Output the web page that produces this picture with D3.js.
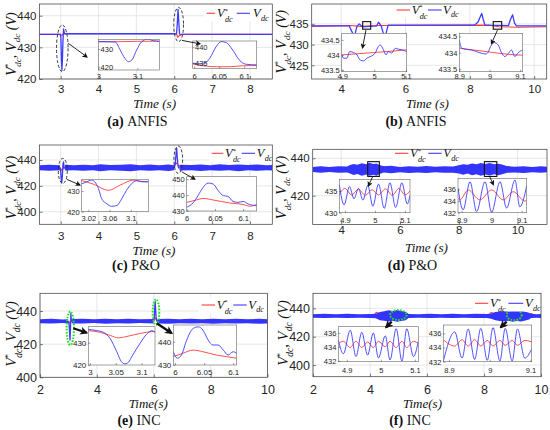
<!DOCTYPE html>
<html><head><meta charset="utf-8">
<script src="https://cdn.jsdelivr.net/npm/d3@7"></script>
<style>body{margin:0;background:#fff}svg{display:block}</style>
</head><body>
<svg id="fig" width="550" height="430"></svg>
<script>
// ================= DATA =================
// ---- (a) ANFIS, scenario 1 ----
const aXTicks = [3,4,5,6,7,8];
const aYTicks = [420,430,440];
const aRef = [[2.44,434.1],[3.0,434.1],[3.03,433.7],[3.07,434.4],[3.2,434.3],[6.06,434.3],[6.09,433.2],[6.13,433.7],[6.2,434.1],[8.59,434.1]];
const aVdc = [[2.44,434.1],[2.99,434.1],[3.005,433],[3.02,426],[3.032,422.8],[3.045,426],[3.06,432],[3.075,435.8],[3.1,434.3],[6.06,434.3],[6.08,437.5],[6.1,442],[6.12,438],[6.14,434.2],[8.59,434.1]];
const aIn1XTicks = [3,3.1], aIn1YTicks = [420,430];
const aIn1Ref = [[3.0,434.0],[3.05,434.15],[3.1,434.35],[3.156,434.45]];
const aIn1Vdc = [[3.0,434.3],[3.02,434.2],[3.043,434.0],[3.056,429.4],[3.068,424.7],[3.077,422.8],[3.086,423.8],[3.098,429.4],[3.111,434.1],[3.126,435.6],[3.141,434.7],[3.156,434.3]];
const aIn2XTicks = [6,6.05,6.1], aIn2YTicks = [435,440];
const aIn2Ref = [[5.997,434.6],[6.018,434.0],[6.044,433.7],[6.07,433.7],[6.096,434.0],[6.125,434.1]];
const aIn2Vdc = [[5.997,434.8],[6.018,434.6],[6.031,436.4],[6.044,440.2],[6.054,441.8],[6.064,441.5],[6.077,439.1],[6.09,435.9],[6.104,434.5],[6.125,434.3]];

// ---- (b) ANFIS, scenario 2 ----
const bXTicks = [4,6,8,10];
const bYTicks = [425,430,435];
const bRef = [[3.08,434.4],[4.3,434.6],[4.6,434.4],[5.2,434.6],[8.6,434.7],[8.9,434.3],[9.5,434.2],[10.39,434.3]];
const bVdc = [[3.08,434.5],[4.25,434.5],[4.33,433.2],[4.40,431.8],[4.45,433.2],[4.49,434.4],[4.56,435.0],[4.66,434.3],[5.10,434.5],[5.16,435.4],[5.24,434.6],[5.30,433.0],[5.36,431.8],[5.41,433.2],[5.46,434.7],[8.15,434.7],[8.26,435.5],[8.31,436.5],[8.37,437.5],[8.42,436],[8.47,434.7],[9.2,434.6],[9.26,436],[9.33,437.2],[9.39,435.2],[9.45,434.5],[10.39,434.5]];
const bIn1XTicks = [4.9,5,5.1], bIn1YTicks = [433.5,434,434.5];
const bIn1Ref = [[4.898,434.0],[4.95,434.04],[5.0,434.08],[5.05,434.12],[5.102,434.17]];
const bIn1Vdc = [[4.898,434.02],[4.904,433.89],[4.914,433.89],[4.923,434.11],[4.935,434.08],[4.946,434.0],[4.956,433.83],[4.967,433.8],[4.977,433.89],[4.987,433.94],[5.003,434.06],[5.013,434.28],[5.019,434.33],[5.029,434.17],[5.037,434.0],[5.045,434.11],[5.055,434.06],[5.066,434.22],[5.076,434.19],[5.087,434.17],[5.102,434.11]];
const bIn2XTicks = [8.9,9,9.1], bIn2YTicks = [433.5,434,434.5];
const bIn2Ref = [[8.9,434.14],[8.95,434.08],[9.0,434.02],[9.05,433.96],[9.109,433.92]];
const bIn2Vdc = [[8.9,434.39],[8.908,434.14],[8.924,434.1],[8.941,434.08],[8.957,434.03],[8.974,433.98],[8.988,433.96],[8.996,434.03],[9.003,434.19],[9.015,434.31],[9.028,434.24],[9.039,434.0],[9.05,433.88],[9.061,433.97],[9.072,434.08],[9.083,433.88],[9.094,434.0],[9.109,434.08]];

// ---- (c) P&O, scenario 1 ----
const cXTicks = [3,4,5,6,7,8];
const cYTicks = [400,420,440];
const cRef = [[2.44,434],[2.99,434],[3.03,431.8],[3.08,433.8],[6.0,434],[6.04,438.2],[6.1,436],[6.2,434],[8.59,434]];
const cBand = [[2.44,432.1,435.9],[2.7,431.7,436.3],[2.98,432,436],[2.99,null,null],[3.1,null,null],[3.11,431.8,436.4],[3.35,432.1,435.9],[3.6,431.6,436.4],[3.85,432,436],[4.05,431.4,436.8],[4.3,432,436.1],[4.6,431.7,436.3],[4.85,431.4,436.7],[5.1,432,436],[5.35,431.6,436.5],[5.6,432,436],[5.85,431.5,436.6],[6.0,432,436],[6.01,null,null],[6.13,null,null],[6.14,431.8,436.3],[6.45,432,436.1],[6.7,431.5,436.5],[6.95,432,436],[7.2,431.6,436.7],[7.45,432,436.1],[7.7,431.4,436.6],[7.95,432,436.2],[8.2,431.6,436.5],[8.45,432,436],[8.59,431.8,436.2]];
const cDip = [[2.98,434],[3.0,431],[3.015,425],[3.028,422.4],[3.045,428],[3.06,437],[3.075,438.5],[3.09,434],[3.11,434]];
const cSpike = [[6.0,434],[6.03,438],[6.05,446],[6.064,449],[6.08,442],[6.095,437],[6.11,434],[6.14,434]];
const cIn1XTicks = [3.02,3.06,3.1], cIn1YTicks = [420,430];
const cIn1Ref = [[3.0075,435.0],[3.03,433.2],[3.058,430.3],[3.08,432.8],[3.105,435.2],[3.12,434.6],[3.133,434.4]];
const cIn1Vdc = [[3.0075,433.4],[3.017,434.4],[3.026,435.2],[3.032,434.4],[3.039,431.2],[3.045,426.3],[3.055,423.8],[3.064,422.6],[3.074,423],[3.083,426.3],[3.092,430.3],[3.102,433.6],[3.111,434.9],[3.121,434.4],[3.133,434.4]];
const cIn2XTicks = [6,6.05,6.1], cIn2YTicks = [430,440,450];
const cIn2Ref = [[6.0,435.4],[6.018,437],[6.029,437.9],[6.047,436.9],[6.077,435],[6.1,434.1],[6.112,433],[6.124,434.1]];
const cIn2Vdc = [[6.0,432.3],[6.012,435.4],[6.02,439.6],[6.029,444.8],[6.038,447.5],[6.047,446.9],[6.056,442.7],[6.065,439.6],[6.073,439.2],[6.082,436],[6.091,435.4],[6.1,436],[6.109,434.4],[6.124,433.3]];

// ---- (d) P&O, scenario 2 ----
const dXTicks = [4,6,8,10];
const dYTicks = [420,440];
const dRef = [[3.03,434],[4.2,434.2],[4.3,435.8],[4.45,434.5],[5.3,434],[5.45,435.6],[5.6,434],[7.98,434.2],[8.1,435.8],[8.3,434.4],[9.55,434.2],[9.7,435.7],[9.85,434],[11,434]];
const dBand = [[3.03,432.6,435.4],[3.3,432.3,435.8],[3.6,432.6,435.3],[3.9,432.2,435.8],[4.2,432.4,435.6],[4.3,431.8,436.4],[4.42,431.0,437.0],[4.55,431.6,436.6],[4.7,430.6,437.4],[4.85,431.3,436.8],[4.95,430.7,437.6],[5.1,431.2,436.9],[5.2,430.6,437.2],[5.3,431.6,436.4],[5.45,432.4,435.7],[5.7,432,436],[6.0,432.5,435.4],[6.3,432.1,435.8],[6.6,432.4,435.5],[6.9,432.1,435.9],[7.2,432.5,435.5],[7.5,432.2,435.8],[7.8,432.3,435.6],[8.0,431.8,436.3],[8.15,431.2,436.8],[8.3,431.8,436.5],[8.45,430.9,437.2],[8.6,431.5,436.8],[8.75,430.7,437.5],[8.9,431.3,436.9],[9.05,430.8,437.5],[9.2,431.4,436.8],[9.35,430.9,437.1],[9.5,431.6,436.5],[9.65,432.2,435.8],[9.9,432.4,435.5],[10.2,432.1,435.8],[10.5,432.5,435.4],[10.8,432.2,435.7],[11.0,432.5,435.5]];
const dIn1XTicks = [4.9,5,5.1], dIn1YTicks = [430,435];
const dIn1Ref = [[4.881,434.2],[4.9,435.6],[4.922,434.1],[4.945,435.4],[4.968,434.0],[4.99,435.3],[5.012,434.1],[5.035,435.5],[5.058,434.0],[5.08,435.6],[5.1,434.1],[5.117,435.0]];
const dIn1Vdc = [[4.881,436.5],[4.897,431.8],[4.915,436.0],[4.93,433.2],[4.945,435.6],[4.96,432.9],[4.976,436.3],[4.993,431.5],[5.012,436.6],[5.031,431.0],[5.05,436.9],[5.069,431.2],[5.09,436.9],[5.108,432.0],[5.117,434.0]];
const dIn2XTicks = [8.9,9,9.1], dIn2YTicks = [432,434,436];
const dIn2Ref = [[8.888,434.5],[8.894,434.2],[8.922,435.9],[8.961,434.2],[9.0,435.9],[9.039,434.2],[9.072,435.6],[9.111,434.0],[9.117,434.1]];
const dIn2Vdc = [[8.888,436.2],[8.905,432.5],[8.928,437.3],[8.95,432.2],[8.978,437.3],[9.0,432.1],[9.028,437.3],[9.05,432.8],[9.078,437.6],[9.094,433],[9.117,436.6]];

// ---- (e) INC, scenario 1 ----
const eXTicks = [2,4,6,8,10];
const eYTicks = [400,420,440];
const eRef = [[2,433.8],[3.02,433.8],[3.055,432.3],[3.1,433.5],[6.0,433.8],[6.05,436],[6.1,434.5],[6.2,433.8],[10,433.8]];
const eBand = [[2,432.6,435.0],[2.4,432.4,435.3],[2.8,432.7,434.9],[2.99,432.5,435.1],[3.0,null,null],[3.12,null,null],[3.13,432.5,435.2],[3.5,432.4,435.3],[3.9,432.7,435.0],[4.3,432.3,435.4],[4.7,432.6,435.0],[5.1,432.4,435.3],[5.5,432.7,435.0],[5.99,432.4,435.2],[6.0,null,null],[6.12,null,null],[6.13,432.5,435.2],[6.5,432.3,435.4],[6.9,432.6,435.0],[7.3,432.4,435.3],[7.7,432.6,435.0],[8.1,432.3,435.3],[8.5,432.6,435.1],[8.9,432.4,435.3],[9.3,432.6,435.0],[9.7,432.3,435.3],[10,432.5,435.1]];
const eDip = [[2.99,433.8],[3.02,432.5],[3.04,427],[3.055,422.5],[3.07,428],[3.085,438.5],[3.1,434.5],[3.13,433.8]];
const eSpike = [[5.99,433.8],[6.02,436],[6.035,442],[6.05,445.6],[6.065,441],[6.08,437],[6.1,434],[6.13,433.8]];
const eIn1XTicks = [3,3.05,3.1], eIn1YTicks = [420,430];
const eIn1Ref = [[2.997,435.4],[3.02,434.7],[3.04,433.2],[3.055,432.2],[3.075,433.0],[3.1,434.3],[3.12,435.0],[3.126,435.1]];
const eIn1Vdc = [[2.997,436.0],[3.012,435.5],[3.026,434.7],[3.039,432],[3.052,426],[3.061,421.5],[3.068,420.5],[3.075,421.3],[3.081,423.7],[3.097,429.7],[3.113,434.6],[3.12,435.4],[3.126,434.6]];
const eIn2XTicks = [6,6.05,6.1], eIn2YTicks = [430,440];
const eIn2Ref = [[5.997,433.6],[6.013,435],[6.031,436.4],[6.048,435.7],[6.071,434.3],[6.088,433.6],[6.106,432.9]];
const eIn2Vdc = [[5.997,435.7],[6.004,432.9],[6.011,434.3],[6.02,440.7],[6.031,445.7],[6.04,446.4],[6.048,445],[6.057,440.7],[6.065,438.6],[6.074,438.6],[6.083,436.4],[6.091,434.3],[6.1,435.7],[6.106,435]];

// ---- (f) INC, scenario 2 ----
const fXTicks = [2,4,6,8,10];
const fYTicks = [400,420,440];
const fRef = [[2,434.6],[4.12,434.7],[4.22,437.2],[4.32,436.4],[4.45,434.8],[5.2,434.6],[5.3,436.4],[5.42,434.6],[8.15,434.7],[8.25,437.2],[8.38,436],[8.5,434.7],[9.55,434.6],[9.66,436.4],[9.8,434.6],[10,434.6]];
const fBand = [[2,433.3,435.9],[2.4,433.1,436.1],[2.8,433.4,435.8],[3.2,433.1,436.1],[3.6,433.3,435.9],[4.0,433.2,436.0],[4.2,433.0,436.2],[4.35,431.6,437.4],[4.5,431.2,437.9],[4.65,430.7,438.6],[4.8,431.2,438.1],[4.95,430.6,438.8],[5.1,431.1,438.2],[5.25,431.6,437.6],[5.35,433.2,436.0],[5.7,433.3,435.9],[6.1,433.1,436.1],[6.5,433.3,435.9],[6.9,433.1,436.1],[7.3,433.3,435.9],[7.7,433.1,436.1],[8.1,433.2,436.0],[8.25,432.6,436.4],[8.4,431.6,437.5],[8.55,431.0,438.0],[8.7,430.8,438.5],[8.85,431.3,438.0],[9.0,430.6,438.8],[9.15,431.1,438.1],[9.3,430.8,438.5],[9.45,431.5,437.6],[9.58,432.2,436.8],[9.65,433.1,436.1],[9.85,433.3,435.9],[10,433.2,436.0]];
const fIn1XTicks = [4.9,5,5.1], fIn1YTicks = [432,434,436];
const fIn1Ref = [[4.875,434.5],[4.89,434.8],[4.91,433.9],[4.927,434.8],[4.944,433.9],[4.961,434.7],[4.978,433.9],[4.993,434.8],[5.013,434.0],[5.027,434.8],[5.045,433.9],[5.062,434.8],[5.076,433.9],[5.096,434.8],[5.11,434.5]];
const fIn1Vdc = [[4.875,435],[4.89,433.0],[4.91,436.4],[4.927,432.6],[4.944,436.1],[4.961,432.8],[4.978,436.0],[4.993,432.4],[5.013,435.6],[5.027,432.1],[5.045,436.6],[5.062,431.95],[5.076,436.6],[5.096,432.6],[5.11,434.8]];
const fIn2XTicks = [8.9,9,9.1], fIn2YTicks = [432,434,436];
const fIn2Ref = [[8.886,435.1],[8.914,434.2],[8.932,435.1],[8.947,434.2],[8.963,435.1],[8.978,434.2],[8.994,435.0],[9.008,434.2],[9.025,435.0],[9.038,434.3],[9.055,435.0],[9.068,434.3],[9.086,435.0],[9.103,434.8]];
const fIn2Vdc = [[8.886,432.05],[8.914,436.2],[8.932,432.5],[8.947,436.6],[8.963,432.3],[8.978,436.7],[8.994,432.2],[9.008,436.8],[9.025,432.1],[9.038,436.7],[9.055,432.1],[9.068,436.6],[9.086,432.5],[9.103,433.8]];

// ================= STYLE / LAYOUT =================
const SERIF = "'Liberation Serif','Times New Roman',serif";
const SANS = "'Liberation Sans',Arial,Helvetica,sans-serif";
const RED = "#ff3c3c", BLUE = "#3c3cff", BANDCOL = "#3434ff", INK = "#262626";

const svg = d3.select("#fig");
const defs = svg.append("defs");
function marker(id, size){
  defs.append("marker").attr("id",id).attr("viewBox","0 0 10 10").attr("refX",8).attr("refY",5)
    .attr("markerWidth",size).attr("markerHeight",size).attr("markerUnits","userSpaceOnUse").attr("orient","auto")
    .append("path").attr("d","M0,0L10,5L0,10L2.5,5z").attr("fill","#111");
}
marker("ah",5.5); marker("ahk",8);
let cid = 0;
function clip(x0,y0,x1,y1){
  const id = "clp"+(cid++);
  defs.append("clipPath").attr("id",id).append("rect").attr("x",x0).attr("y",y0).attr("width",x1-x0).attr("height",y1-y0);
  return `url(#${id})`;
}
function drawLine(p, sx, sy, data, color, w, curve){
  p.append("path").datum(data).attr("fill","none").attr("stroke",color).attr("stroke-width",w)
   .attr("stroke-linejoin","round")
   .attr("d", d3.line().x(d=>sx(d[0])).y(d=>sy(d[1])).curve(curve||d3.curveLinear));
}
function drawBand(p, sx, sy, data, color){
  p.append("path").datum(data).attr("fill",color)
   .attr("d", d3.area().defined(d=>d[1]!==null).x(d=>sx(d[0])).y0(d=>sy(d[1])).y1(d=>sy(d[2])));
}
function styleAxis(a, fs){
  a.select(".domain").remove();
  a.attr("font-family",SANS).attr("font-size",fs);
  a.selectAll("line").attr("stroke","#444").attr("stroke-width",0.7);
  a.selectAll("text").attr("fill",INK);
}
// "V" with optional "*" superscript and "dc" subscript, as tspans of one text element.
function vSpans(t, fs, star){
  t.append("tspan").attr("font-style","italic").attr("font-size",fs).text("V");
  if(star){
    const s1 = fs*0.52, s2 = fs*0.656;
    t.append("tspan").attr("font-size",s1).attr("dy",-fs*0.37).text("*");
    t.append("tspan").attr("font-style","italic").attr("font-size",s2)
      .attr("dx",-s1*0.5+0.3).attr("dy",fs*0.74).text("dc");
    return fs*0.37;
  }
  t.append("tspan").attr("font-style","italic").attr("font-size",fs*0.656).attr("dx",0.3).attr("dy",fs*0.26).text("dc");
  return fs*0.26;
}
function mathLabel(p, x, y, fs, star){
  const t = p.append("text").attr("x",x).attr("y",y).attr("font-family",SERIF).attr("fill","#111").attr("font-size",fs);
  vSpans(t, fs, star);
  return t;
}

function mainAxes(P){
  const [x0,y0,x1,y1] = P.box;
  const sx = d3.scaleLinear().domain(P.xdom).range([x0,x1]);
  const sy = d3.scaleLinear().domain(P.ydom).range([y1,y0]);
  const g = svg.append("g");
  g.append("rect").attr("x",x0).attr("y",y0).attr("width",x1-x0).attr("height",y1-y0).attr("fill","#fff");
  const grid = g.append("g").attr("stroke","#e1e1e1").attr("stroke-width",0.8);
  P.xticks.forEach(t=>grid.append("line").attr("x1",sx(t)).attr("x2",sx(t)).attr("y1",y0).attr("y2",y1));
  P.yticks.forEach(v=>grid.append("line").attr("x1",x0).attr("x2",x1).attr("y1",sy(v)).attr("y2",sy(v)));
  const plot = g.append("g").attr("clip-path", clip(x0,y0,x1,y1));
  const top = svg.append("g");
  return {sx, sy, g, plot, top, P};
}
function finishAxes(A){
  const {sx, sy, P} = A;
  const [x0,y0,x1,y1] = P.box;
  const g = svg.append("g");
  g.append("rect").attr("x",x0).attr("y",y0).attr("width",x1-x0).attr("height",y1-y0)
    .attr("fill","none").attr("stroke","#444").attr("stroke-width",0.75);
  const xa = g.append("g").attr("transform",`translate(0,${y1})`)
    .call(d3.axisBottom(sx).tickValues(P.xticks).tickFormat(d=>String(d)).tickSizeInner(-3).tickSizeOuter(0)
      .tickPadding(P.xly - y1 - 0.36*P.tfs));
  styleAxis(xa, P.tfs);
  const ya = g.append("g").attr("transform",`translate(${x0},0)`)
    .call(d3.axisLeft(sy).tickValues(P.yticks).tickFormat(d=>String(d)).tickSizeInner(-3).tickSizeOuter(0).tickPadding(3));
  styleAxis(ya, P.tfs);
  svg.append("text").attr("x",P.xlab.x).attr("y",P.xlab.y).attr("text-anchor","middle")
    .attr("font-family",SERIF).attr("font-style","italic").attr("font-size",P.xlab.fs).attr("fill","#111").text(P.xlab.text);
  const cap = svg.append("text").attr("x",P.cap.x).attr("y",P.cap.y).attr("text-anchor","middle")
    .attr("font-family",SERIF).attr("font-size",14).attr("fill","#111");
  cap.append("tspan").attr("font-weight","bold").text(P.cap.tag);
  cap.append("tspan").text("\u00a0"+P.cap.name);
  const fs = P.ylab.fs;
  const yg = svg.append("g").attr("transform",`translate(${P.ylab.x},${P.ylab.y}) rotate(-90)`);
  const t = yg.append("text").attr("x",0).attr("y",fs*0.33).attr("text-anchor","middle")
    .attr("font-family",SERIF).attr("font-size",fs).attr("fill","#111");
  let back = vSpans(t, fs, true);
  t.append("tspan").attr("font-size",fs).attr("dy",-back).text(",\u00a0");
  back = vSpans(t, fs, false);
  t.append("tspan").attr("font-size",fs).attr("font-style","italic").attr("dy",-back).text("\u00a0(V)");
}
function inset(I, red, blue){
  const [x0,y0,x1,y1] = I.box;
  const fs = I.fs || 7.5;
  const sx = d3.scaleLinear().domain(I.xdom).range([x0,x1]);
  const sy = d3.scaleLinear().domain(I.ydom).range([y1,y0]);
  const g = svg.append("g");
  g.append("rect").attr("x",x0).attr("y",y0).attr("width",x1-x0).attr("height",y1-y0).attr("fill","#fff");
  const p = g.append("g").attr("clip-path", clip(x0,y0,x1,y1));
  drawLine(p,sx,sy,red,RED,0.9,d3.curveMonotoneX);
  drawLine(p,sx,sy,blue,BLUE,0.9,d3.curveMonotoneX);
  g.append("rect").attr("x",x0).attr("y",y0).attr("width",x1-x0).attr("height",y1-y0)
    .attr("fill","none").attr("stroke","#666").attr("stroke-width",0.6);
  const xa = g.append("g").attr("transform",`translate(0,${y1})`)
    .call(d3.axisBottom(sx).tickValues(I.xticks).tickFormat(d=>String(d)).tickSizeInner(-2).tickSizeOuter(0)
      .tickPadding(I.xly - y1 - 0.36*fs));
  styleAxis(xa, fs);
  let ya;
  if(I.inside){
    ya = g.append("g").attr("transform",`translate(${x0},0)`)
      .call(d3.axisRight(sy).tickValues(I.yticks).tickFormat(d=>String(d)).tickSizeInner(2).tickSizeOuter(0).tickPadding(0.3));
  } else {
    ya = g.append("g").attr("transform",`translate(${x0},0)`)
      .call(d3.axisLeft(sy).tickValues(I.yticks).tickFormat(d=>String(d)).tickSizeInner(-2).tickSizeOuter(0).tickPadding(2));
  }
  styleAxis(ya, fs);
  g.selectAll("line").attr("stroke-width",0.5);
}
function legend(L){
  svg.append("rect").attr("x",L.bg[0]).attr("y",L.bg[1]).attr("width",L.bg[2]-L.bg[0]).attr("height",L.bg[3]-L.bg[1]).attr("fill","#fff");
  svg.append("line").attr("x1",L.r[0]).attr("x2",L.r[1]).attr("y1",L.y).attr("y2",L.y).attr("stroke",RED).attr("stroke-width",1.1);
  mathLabel(svg, L.rt, L.y+4, 12.5, true);
  svg.append("line").attr("x1",L.b[0]).attr("x2",L.b[1]).attr("y1",L.y).attr("y2",L.y).attr("stroke",BLUE).attr("stroke-width",1.1);
  mathLabel(svg, L.bt, L.y+4, 12.5, false);
}
function ellipse(A, e, green){
  const cx = A.sx(e.t), cy = A.sy(e.v);
  const rx = A.sx(e.t+e.rt)-cx, ry = cy - A.sy(e.v+e.rv);
  A.top.append("ellipse").attr("cx",cx).attr("cy",cy).attr("rx",rx).attr("ry",ry).attr("fill","none")
    .attr("stroke", green ? "#22e022" : "#222").attr("stroke-width", green ? 2 : 0.9)
    .attr("stroke-dasharray", green ? "1.6,1.4" : "3,2");
}
function square(A, s){
  A.top.append("rect").attr("x",A.sx(s.t0)).attr("y",A.sy(s.v1)).attr("width",A.sx(s.t1)-A.sx(s.t0))
    .attr("height",A.sy(s.v0)-A.sy(s.v1)).attr("fill","none").attr("stroke","#111").attr("stroke-width",1.1);
}
function arrow(A, a, thick){
  svg.append("line").attr("x1",A.sx(a.t0)).attr("y1",A.sy(a.v0)).attr("x2",A.sx(a.t1)).attr("y2",A.sy(a.v1))
    .attr("stroke","#111").attr("stroke-width", thick ? 2.3 : 0.9).attr("marker-end", thick ? "url(#ahk)" : "url(#ah)");
}

// ================= PANELS =================
const PA = {box:[39.5,4,272.3,79], xdom:[2.44,8.59], ydom:[420,443.7], xticks:aXTicks, yticks:aYTicks, tfs:11.5, xly:88.8,
  xlab:{x:154.7,y:107.5,text:"Time\u00a0(s)",fs:13.2}, cap:{x:137.5,y:126.2,tag:"(a)",name:"ANFIS"}, ylab:{x:11.7,y:44,fs:14}};
const PB = {box:[311.7,4,546.7,79], xdom:[3.083,10.39], ydom:[421.7,439.8], xticks:bXTicks, yticks:bYTicks, tfs:11.5, xly:88.8,
  xlab:{x:427.5,y:107.5,text:"Time\u00a0(s)",fs:13.2}, cap:{x:416,y:126.2,tag:"(b)",name:"ANFIS"}, ylab:{x:281.7,y:41.7,fs:14}};
const PC = {box:[39.5,145,272.3,224.3], xdom:[2.44,8.59], ydom:[390.3,451.6], xticks:cXTicks, yticks:cYTicks, tfs:11.5, xly:236,
  xlab:{x:154,y:254.5,text:"Time\u00a0(s)",fs:13.2}, cap:{x:136,y:269.5,tag:"(c)",name:"P&O"}, ylab:{x:11.7,y:187.5,fs:14}};
const PD = {box:[312.7,149.3,547,224.5], xdom:[3.03,11.0], ydom:[404.6,444.8], xticks:dXTicks, yticks:dYTicks, tfs:11.5, xly:229.8,
  xlab:{x:426.5,y:251.5,text:"Time\u00a0(s)",fs:13.2}, cap:{x:412.5,y:269.5,tag:"(d)",name:"P&O"}, ylab:{x:281.7,y:187.5,fs:14}};
const PE = {box:[40,293.3,267.5,377.3], xdom:[2,10], ydom:[400,450.7], xticks:eXTicks, yticks:eYTicks, tfs:12.5, xly:389.5,
  xlab:{x:148.3,y:407.5,text:"Time(s)",fs:13}, cap:{x:139,y:424.8,tag:"(e)",name:"INC"}, ylab:{x:11.7,y:334,fs:14.5}};
const PF = {box:[313,293.3,541,376.7], xdom:[2,10], ydom:[391.8,450.6], xticks:fXTicks, yticks:fYTicks, tfs:12.5, xly:389.5,
  xlab:{x:422.5,y:407.5,text:"Time(s)",fs:13}, cap:{x:410,y:424.8,tag:"(f)",name:"INC"}, ylab:{x:283.3,y:333,fs:14.5}};

// ---- (a)
const A = mainAxes(PA);
drawLine(A.plot,A.sx,A.sy,aRef,RED,1.1);
drawLine(A.plot,A.sx,A.sy,aVdc,BLUE,1.3);
ellipse(A,{t:3.042,v:429.7,rt:0.153,rv:7.36});
ellipse(A,{t:6.115,v:437.2,rt:0.13,rv:5.4});
inset({box:[98.3,39.3,159.3,70], xdom:[3,3.156], ydom:[418.1,435.5], xticks:aIn1XTicks, yticks:aIn1YTicks, xly:76, inside:true}, aIn1Ref, aIn1Vdc);
inset({box:[192.7,41,256.7,68.3], xdom:[5.997,6.125], ydom:[433.2,442], xticks:aIn2XTicks, yticks:aIn2YTicks, xly:76, inside:true}, aIn2Ref, aIn2Vdc);
legend({bg:[204,5.5,271.5,21], y:13.3, r:[206.7,215], rt:217, b:[236.7,250], bt:253});
arrow(A,{t0:3.2,v0:431.3,t1:3.695,v1:426.95});
arrow(A,{t0:6.204,v0:432.2,t1:6.68,v1:431.1});
finishAxes(A);

// ---- (b)
const B = mainAxes(PB);
drawLine(B.plot,B.sx,B.sy,bRef,RED,1.1);
drawLine(B.plot,B.sx,B.sy,bVdc,BLUE,1.3);
square(B,{t0:4.668,t1:4.917,v0:433.72,v1:435.55});
square(B,{t0:8.728,t1:8.99,v0:433.72,v1:435.55});
inset({box:[341.7,33.3,406.7,71.7], xdom:[4.898,5.102], ydom:[433.44,434.72], xticks:bIn1XTicks, yticks:bIn1YTicks, xly:76}, bIn1Ref, bIn1Vdc);
inset({box:[459.3,33.3,522.7,71.7], xdom:[8.9,9.109], ydom:[433.41,434.6], xticks:bIn2XTicks, yticks:bIn2YTicks, xly:76}, bIn2Ref, bIn2Vdc);
legend({bg:[394,4.8,460,18], y:10, r:[396.7,410], rt:411.7, b:[428,441.7], bt:443});
arrow(B,{t0:4.77,v0:433.5,t1:4.662,v1:429.2});
arrow(B,{t0:8.858,v0:433.5,t1:8.672,v1:430.2});
finishAxes(B);

// ---- (c)
const C = mainAxes(PC);
drawLine(C.plot,C.sx,C.sy,cRef,RED,1.1);
drawBand(C.plot,C.sx,C.sy,cBand,BANDCOL);
drawLine(C.plot,C.sx,C.sy,cDip,BLUE,1.3);
drawLine(C.plot,C.sx,C.sy,cSpike,BLUE,1.3);
ellipse(C,{t:3.055,v:431.6,rt:0.119,rv:9.67});
ellipse(C,{t:6.106,v:440.2,rt:0.115,rv:10.6});
inset({box:[81.7,179.3,148.3,211.7], xdom:[3.0075,3.133], ydom:[420,435.6], xticks:cIn1XTicks, yticks:cIn1YTicks, xly:218.3}, cIn1Ref, cIn1Vdc);
inset({box:[186.7,176.7,256.7,211], xdom:[6.0,6.124], ydom:[430,451.5], xticks:cIn2XTicks, yticks:cIn2YTicks, xly:218.3}, cIn2Ref, cIn2Vdc);
legend({bg:[209,146.3,271.5,162], y:153.3, r:[211.7,223.3], rt:225, b:[241.7,255], bt:256.7});
arrow(C,{t0:3.158,v0:425.1,t1:3.51,v1:420.65});
arrow(C,{t0:6.196,v0:430.9,t1:6.547,v1:425.1});
finishAxes(C);

// ---- (d)
const D = mainAxes(PD);
drawLine(D.plot,D.sx,D.sy,dRef,RED,1.1);
drawBand(D.plot,D.sx,D.sy,dBand,BANDCOL);
square(D,{t0:4.902,t1:5.297,v0:430.3,v1:438.2});
square(D,{t0:8.87,t1:9.293,v0:430.3,v1:438.2});
inset({box:[339.3,179.3,410,212.7], xdom:[4.881,5.117], ydom:[430,437.7], xticks:dIn1XTicks, yticks:dIn1YTicks, xly:220}, dIn1Ref, dIn1Vdc);
inset({box:[458,178.3,526.7,212.7], xdom:[8.888,9.117], ydom:[432,437.9], xticks:dIn2XTicks, yticks:dIn2YTicks, xly:220}, dIn2Ref, dIn2Vdc);
legend({bg:[393,150.3,459,162], y:153.3, r:[395,408.3], rt:410, b:[428.3,441.7], bt:443.3});
arrow(D,{t0:5.07,v0:430.2,t1:4.922,v1:425.2});
arrow(D,{t0:9.05,v0:430.2,t1:9.177,v1:425.9});
finishAxes(D);

// ---- (e)
const E = mainAxes(PE);
drawLine(E.plot,E.sx,E.sy,eRef,RED,1.1);
drawBand(E.plot,E.sx,E.sy,eBand,BANDCOL);
drawLine(E.plot,E.sx,E.sy,eDip,BLUE,1.3);
drawLine(E.plot,E.sx,E.sy,eSpike,BLUE,1.3);
ellipse(E,{t:3.066,v:429.6,rt:0.129,rv:10.1},true);
ellipse(E,{t:6.079,v:439.3,rt:0.116,rv:7.7},true);
inset({box:[88.3,326.7,155,365], xdom:[2.997,3.126], ydom:[420,437.2], xticks:eIn1XTicks, yticks:eIn1YTicks, xly:371.7, fs:8}, eIn1Ref, eIn1Vdc);
inset({box:[173.3,325,236.7,365], xdom:[5.997,6.106], ydom:[430,447.2], xticks:eIn2XTicks, yticks:eIn2YTicks, xly:371.7, fs:8}, eIn2Ref, eIn2Vdc);
legend({bg:[199,297,266.5,313.5], y:305, r:[201.7,215], rt:216.7, b:[233.3,246.7], bt:248.3});
arrow(E,{t0:3.17,v0:429.6,t1:3.642,v1:426.9},true);
arrow(E,{t0:6.103,v0:432.6,t1:6.63,v1:426.6},true);
finishAxes(E);

// ---- (f)
const F = mainAxes(PF);
drawLine(F.plot,F.sx,F.sy,fRef,RED,1.1);
drawBand(F.plot,F.sx,F.sy,fBand,BANDCOL);
ellipse(F,{t:4.993,v:435.3,rt:0.29,rv:3.5},true);
ellipse(F,{t:9.06,v:435.3,rt:0.263,rv:3.7},true);
inset({box:[338.3,326.7,418.3,361.7], xdom:[4.875,5.11], ydom:[431.86,436.9], xticks:fIn1XTicks, yticks:fIn1YTicks, xly:370}, fIn1Ref, fIn1Vdc);
inset({box:[443.3,325,531.7,361.7], xdom:[8.886,9.103], ydom:[432,437.17], xticks:fIn2XTicks, yticks:fIn2YTicks, xly:370}, fIn2Ref, fIn2Vdc);
legend({bg:[473,295,540.5,311.5], y:303.3, r:[475,488.3], rt:490, b:[508.3,523.3], bt:525});
arrow(F,{t0:4.761,v0:430.6,t1:4.561,v1:426.6},true);
arrow(F,{t0:8.796,v0:430.6,t1:8.586,v1:426.6},true);
finishAxes(F);
</script>
</body></html>
